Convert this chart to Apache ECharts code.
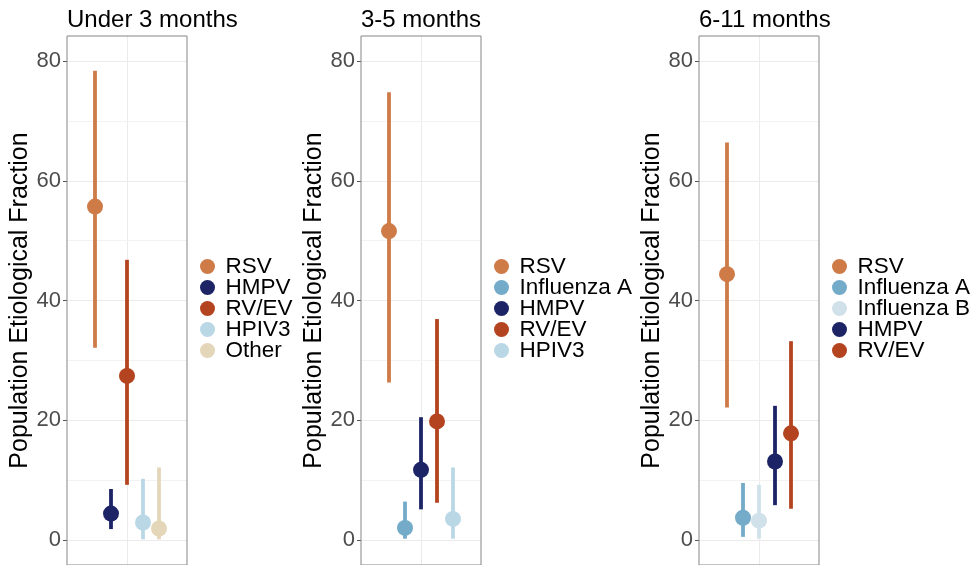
<!DOCTYPE html>
<html>
<head>
<meta charset="utf-8">
<script src="https://cdn.jsdelivr.net/npm/echarts@6/dist/echarts.min.js"></script>
<style>html,body{margin:0;padding:0;background:#fff;}#c{width:973px;height:565px;}</style>
</head>
<body>
<div id="c"></div>
<script>
// ---- data ----
const panelTitles = ['Under 3 months', '3-5 months', '6-11 months'];

const p1Names = ['RSV', 'HMPV', 'RV/EV', 'HPIV3', 'Other'];
const p1Est   = [55.7, 4.4, 27.4, 2.9, 1.9];
const p1Lo    = [32.1, 1.8, 9.2, 0.1, 0.1];
const p1Hi    = [78.4, 8.5, 46.8, 10.2, 12.1];

const p2Names = ['RSV', 'Influenza A', 'HMPV', 'RV/EV', 'HPIV3'];
const p2Est   = [51.6, 2.0, 11.7, 19.8, 3.5];
const p2Lo    = [26.3, 0.2, 5.1, 6.2, 0.2];
const p2Hi    = [74.8, 6.4, 20.5, 36.9, 12.1];

const p3Names = ['RSV', 'Influenza A', 'Influenza B', 'HMPV', 'RV/EV'];
const p3Est   = [44.4, 3.7, 3.2, 13.1, 17.8];
const p3Lo    = [22.1, 0.5, 0.2, 5.8, 5.2];
const p3Hi    = [66.4, 9.5, 9.2, 22.4, 33.2];

const yTicks = [0, 20, 40, 60, 80];
const yMinorTicks = [10, 30, 50, 70];
const xCenterTick = [0];

const virusColors = {
  'RSV': '#cf7b48',
  'HMPV': '#1d2466',
  'RV/EV': '#b4441f',
  'HPIV3': '#bad7e6',
  'Other': '#e4d6b9',
  'Influenza A': '#73abc9',
  'Influenza B': '#d0e1ea'
};

// ---- layout ----
const FONT = '"Liberation Sans", Arial, sans-serif';
const gridLefts = [67, 361, 699];
const gridW = 120;
const gridTop = 36;
const yMin = -4.2, yMax = 84.2;
const pxPerUnit = 6.008;
const gridH = (yMax - yMin) * pxPerUnit;
const dodge = 0.16;

const panels = [
  {names: p1Names, est: p1Est, lo: p1Lo, hi: p1Hi},
  {names: p2Names, est: p2Est, lo: p2Lo, hi: p2Hi},
  {names: p3Names, est: p3Est, lo: p3Lo, hi: p3Hi}
];

const grids = [], xAxes = [], yAxes = [], series = [], legends = [], titles = [];

panels.forEach((p, k) => {
  grids.push({left: gridLefts[k], top: gridTop, width: gridW, height: gridH,
    show: true, borderColor: '#858585', borderWidth: 1, backgroundColor: 'transparent', containLabel: false, z: 3});
  xAxes.push({type: 'value', gridIndex: k, min: -0.6, max: 0.6,
    axisLine: {show: false, onZero: false}, axisTick: {show: false, customValues: xCenterTick}, axisLabel: {show: false, customValues: xCenterTick},
    splitLine: {show: true, lineStyle: {color: '#ebebeb', width: 1}}});
  yAxes.push({type: 'value', gridIndex: k, min: yMin, max: yMax,
    name: 'Population Etiological Fraction', nameLocation: 'middle', nameGap: 33,
    nameTextStyle: {fontSize: 25, color: '#000', fontFamily: FONT},
    axisLine: {show: false, onZero: false},
    axisTick: {show: true, length: 4, customValues: yTicks, lineStyle: {color: '#555'}},
    axisLabel: {show: true, customValues: yTicks, margin: 6, fontSize: 22, color: '#4d4d4d', fontFamily: FONT},
    splitLine: {show: true, lineStyle: {color: '#ebebeb', width: 1}}});
  titles.push({text: panelTitles[k], left: gridLefts[k], top: 8, padding: 0,
    textStyle: {fontSize: 24, fontWeight: 'normal', color: '#000', fontFamily: FONT}});
  legends.push({orient: 'vertical', left: gridLefts[k] + gridW + 13, top: 255,
    itemWidth: 26, itemHeight: 15, itemGap: -2, selectedMode: false, padding: 0,
    textStyle: {fontSize: 22.5, color: '#000', fontFamily: FONT, lineHeight: 21},
    data: p.names.map(n => ({name: n, icon: 'circle', itemStyle: {color: virusColors[n]}}))});
  const n = p.names.length;
  p.names.forEach((name, i) => {
    const color = virusColors[name];
    const s = {
      type: 'custom', name: name, xAxisIndex: k, yAxisIndex: k,
      itemStyle: {color: color},
      encode: {x: 0, y: [1, 2, 3]},
      data: [[(i - (n - 1) / 2) * dodge, p.est[i], p.lo[i], p.hi[i]]],
      renderItem: function (params, api) {
        const x = api.value(0);
        const e = api.coord([x, api.value(1)]);
        const a = api.coord([x, api.value(2)]);
        const b = api.coord([x, api.value(3)]);
        return {type: 'group', children: [
          {type: 'line', shape: {x1: a[0], y1: a[1], x2: b[0], y2: b[1]}, style: {stroke: color, lineWidth: 3.8}},
          {type: 'circle', shape: {cx: e[0], cy: e[1], r: 8}, style: {fill: color}}
        ]};
      },
      silent: true, animation: false
    };
    if (i === 0) {
      s.markLine = {silent: true, symbol: 'none', animation: false, z: 1,
        label: {show: false},
        lineStyle: {color: '#f3f3f3', width: 1, type: 'solid'},
        data: yMinorTicks.map(v => ({yAxis: v}))};
    }
    series.push(s);
  });
});

const chart = echarts.init(document.getElementById('c'), null, {renderer: 'canvas'});
chart.setOption({
  animation: false,
  backgroundColor: '#fff',
  title: titles,
  grid: grids,
  xAxis: xAxes,
  yAxis: yAxes,
  legend: legends,
  series: series
});
</script>
</body>
</html>
